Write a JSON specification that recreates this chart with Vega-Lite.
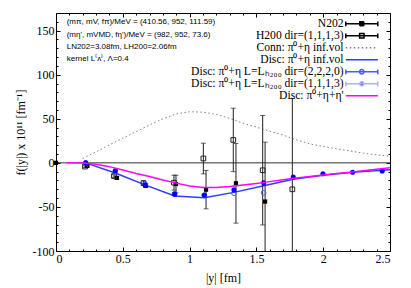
{
  "$schema": "https://vega.github.io/schema/vega-lite/v6.json",
  "width": 334,
  "height": 238,
  "autosize": "none",
  "padding": {"left": 56, "top": 13, "right": 21, "bottom": 37},
  "background": "white",
  "config": {
    "view": {"stroke": "black", "strokeWidth": 1},
    "font": "Liberation Serif",
    "axis": {"grid": false, "domain": false, "labelFont": "Liberation Serif", "labelFontSize": 12, "labelColor": "black", "titleFont": "Liberation Serif", "titleFontSize": 12, "titleFontWeight": "normal", "titleColor": "black", "tickColor": "black", "tickWidth": 1}
  },
  "datasets": {
    "curves": [
      {"series": "conn", "x": 0.2, "y": 5}, {"series": "conn", "x": 0.3, "y": 12.5}, {"series": "conn", "x": 0.4, "y": 20.5}, {"series": "conn", "x": 0.5, "y": 28}, {"series": "conn", "x": 0.6, "y": 35.5}, {"series": "conn", "x": 0.7, "y": 43}, {"series": "conn", "x": 0.8, "y": 50}, {"series": "conn", "x": 0.9, "y": 55.5}, {"series": "conn", "x": 1.0, "y": 58}, {"series": "conn", "x": 1.1, "y": 57.5}, {"series": "conn", "x": 1.2, "y": 55}, {"series": "conn", "x": 1.3, "y": 50.5}, {"series": "conn", "x": 1.4, "y": 45}, {"series": "conn", "x": 1.5, "y": 40.5}, {"series": "conn", "x": 1.6, "y": 36}, {"series": "conn", "x": 1.7, "y": 31.5}, {"series": "conn", "x": 1.8, "y": 26}, {"series": "conn", "x": 1.9, "y": 21.5}, {"series": "conn", "x": 2.0, "y": 18.5}, {"series": "conn", "x": 2.1, "y": 16}, {"series": "conn", "x": 2.2, "y": 13.5}, {"series": "conn", "x": 2.3, "y": 11}, {"series": "conn", "x": 2.4, "y": 9}, {"series": "conn", "x": 2.5, "y": 7.5},
      {"series": "disc", "x": 0.222, "y": 0}, {"series": "disc", "x": 0.444, "y": -11.5}, {"series": "disc", "x": 0.666, "y": -25}, {"series": "disc", "x": 0.888, "y": -37.5}, {"series": "disc", "x": 1.11, "y": -39.7}, {"series": "disc", "x": 1.332, "y": -33.5}, {"series": "disc", "x": 1.554, "y": -26}, {"series": "disc", "x": 1.776, "y": -18.5}, {"series": "disc", "x": 1.998, "y": -14}, {"series": "disc", "x": 2.22, "y": -10.8}, {"series": "disc", "x": 2.442, "y": -8.3}, {"series": "disc", "x": 2.5, "y": -7.8},
      {"series": "eta", "x": 0.08, "y": 0}, {"series": "eta", "x": 0.2, "y": -0.3}, {"series": "eta", "x": 0.3, "y": -1.5}, {"series": "eta", "x": 0.4, "y": -4.3}, {"series": "eta", "x": 0.5, "y": -8}, {"series": "eta", "x": 0.6, "y": -12}, {"series": "eta", "x": 0.7, "y": -15.5}, {"series": "eta", "x": 0.8, "y": -19.5}, {"series": "eta", "x": 0.9, "y": -23}, {"series": "eta", "x": 1.0, "y": -26.3}, {"series": "eta", "x": 1.1, "y": -28}, {"series": "eta", "x": 1.2, "y": -28}, {"series": "eta", "x": 1.3, "y": -26.8}, {"series": "eta", "x": 1.4, "y": -25}, {"series": "eta", "x": 1.5, "y": -23.3}, {"series": "eta", "x": 1.6, "y": -21.3}, {"series": "eta", "x": 1.7, "y": -19.2}, {"series": "eta", "x": 1.8, "y": -17.2}, {"series": "eta", "x": 1.9, "y": -15.4}, {"series": "eta", "x": 2.0, "y": -13.7}, {"series": "eta", "x": 2.1, "y": -12.1}, {"series": "eta", "x": 2.2, "y": -10.6}, {"series": "eta", "x": 2.3, "y": -9}, {"series": "eta", "x": 2.4, "y": -7.3}, {"series": "eta", "x": 2.5, "y": -5.6}
    ],
    "pts": [
      {"series": "N202", "x": 0.0, "y": 0, "lo": 0, "hi": 0},
      {"series": "N202", "x": 0.234, "y": -3.5, "lo": -4.5, "hi": -2.5},
      {"series": "N202", "x": 0.455, "y": -17, "lo": -18.5, "hi": -15.5},
      {"series": "N202", "x": 0.672, "y": -26, "lo": -28, "hi": -24},
      {"series": "N202", "x": 0.898, "y": -24, "lo": -34, "hi": -14},
      {"series": "N202", "x": 1.123, "y": -30.4, "lo": -52.2, "hi": -8.6},
      {"series": "N202", "x": 1.347, "y": -23.2, "lo": -68.4, "hi": 22},
      {"series": "N202", "x": 1.565, "y": -43.9, "lo": -111.3, "hi": 23.5},
      {"series": "H200", "x": 0.217, "y": -4.2, "lo": -5.2, "hi": -3.2},
      {"series": "H200", "x": 0.434, "y": -15, "lo": -16.5, "hi": -13.5},
      {"series": "H200", "x": 0.655, "y": -23, "lo": -25.5, "hi": -20.5},
      {"series": "H200", "x": 0.883, "y": -22.5, "lo": -31, "hi": -14},
      {"series": "H200", "x": 1.103, "y": 5, "lo": -12.5, "hi": 22.3},
      {"series": "H200", "x": 1.327, "y": 26, "lo": -10, "hi": 62},
      {"series": "H200", "x": 1.547, "y": -8.4, "lo": -70.5, "hi": 53.7},
      {"series": "H200", "x": 1.769, "y": -30, "lo": -133, "hi": 73},
      {"series": "D2220", "x": 0.222, "y": 0, "lo": 0, "hi": 0},
      {"series": "D2220", "x": 0.444, "y": -9.5, "lo": -9.5, "hi": -9.5},
      {"series": "D2220", "x": 0.666, "y": -24, "lo": -24, "hi": -24},
      {"series": "D2220", "x": 0.888, "y": -35, "lo": -35, "hi": -35},
      {"series": "D2220", "x": 1.11, "y": -37, "lo": -37, "hi": -37},
      {"series": "D2220", "x": 1.332, "y": -34.5, "lo": -34.5, "hi": -34.5},
      {"series": "D2220", "x": 1.554, "y": -34, "lo": -34, "hi": -34},
      {"series": "D1113", "x": 0.222, "y": 0, "lo": 0, "hi": 0},
      {"series": "D1113", "x": 0.444, "y": -9, "lo": -9, "hi": -9},
      {"series": "D1113", "x": 0.666, "y": -25, "lo": -25, "hi": -25},
      {"series": "D1113", "x": 0.888, "y": -35.5, "lo": -35.5, "hi": -35.5},
      {"series": "D1113", "x": 1.11, "y": -36.5, "lo": -36.5, "hi": -36.5},
      {"series": "D1113", "x": 1.332, "y": -30.5, "lo": -30.5, "hi": -30.5},
      {"series": "D1113", "x": 1.554, "y": -22.5, "lo": -22.5, "hi": -22.5},
      {"series": "D1113", "x": 1.776, "y": -16, "lo": -16, "hi": -16},
      {"series": "D1113", "x": 1.998, "y": -12.3, "lo": -12.3, "hi": -12.3},
      {"series": "D1113", "x": 2.22, "y": -10.6, "lo": -10.6, "hi": -10.6},
      {"series": "D1113", "x": 2.442, "y": -9.3, "lo": -9.3, "hi": -9.3}
    ]
  },
  "resolve": {"axis": {"x": "independent", "y": "independent"}},
  "layer": [
    {
      "data": {"name": "curves"},
      "transform": [{"filter": {"field": "series", "equal": "conn"}}],
      "mark": {"type": "line", "color": "#808080", "strokeWidth": 1, "strokeDash": [1.5, 2.5]},
      "encoding": {
        "x": {"field": "x", "type": "quantitative", "scale": {"domain": [0, 2.5], "nice": false, "zero": false},
          "axis": {"orient": "bottom", "values": [0, 0.5, 1, 1.5, 2, 2.5], "tickSize": -4, "labelPadding": 6, "labelExpr": "'' + datum.value", "labelFont": "Liberation Serif", "labelFontSize": 12, "title": "|y| [fm]", "titleFont": "Liberation Serif", "titleFontSize": 12, "titleFontWeight": "normal", "titlePadding": 8}},
        "y": {"field": "y", "type": "quantitative", "scale": {"domain": [-100, 170], "nice": false, "zero": false},
          "axis": {"orient": "left", "values": [-100, -50, 0, 50, 100, 150], "tickSize": -4, "labelPadding": 6, "labelExpr": "'' + datum.value", "labelFont": "Liberation Serif", "labelFontSize": 12, "title": "f(|y|) x 10¹¹ [fm⁻¹]", "titleFont": "Liberation Serif", "titleFontSize": 12, "titleFontWeight": "normal", "titlePadding": 5}}
      }
    },
    {
      "data": {"values": [{}]},
      "mark": {"type": "rule", "color": "#333333", "strokeWidth": 1},
      "encoding": {"y": {"datum": 0, "type": "quantitative", "axis": null}}
    },
    {
      "data": {"name": "curves"},
      "transform": [{"filter": {"field": "series", "equal": "disc"}}],
      "mark": {"type": "line", "color": "#2a3cff", "strokeWidth": 1.5},
      "encoding": {
        "x": {"field": "x", "type": "quantitative", "axis": null},
        "y": {"field": "y", "type": "quantitative", "axis": null}
      }
    },
    {
      "data": {"name": "pts"},
      "transform": [{"filter": {"field": "series", "oneOf": ["N202", "H200"]}}],
      "mark": {"type": "rule", "color": "#222222", "strokeWidth": 1, "clip": true},
      "encoding": {
        "x": {"field": "x", "type": "quantitative", "axis": null},
        "y": {"field": "lo", "type": "quantitative", "axis": null},
        "y2": {"field": "hi"}
      }
    },
    {
      "data": {"name": "pts"},
      "transform": [{"filter": {"field": "series", "oneOf": ["N202", "H200"]}}],
      "mark": {"type": "tick", "orient": "horizontal", "color": "#222222", "size": 5, "thickness": 1, "clip": true},
      "encoding": {
        "x": {"field": "x", "type": "quantitative", "axis": null},
        "y": {"field": "lo", "type": "quantitative", "axis": null}
      }
    },
    {
      "data": {"name": "pts"},
      "transform": [{"filter": {"field": "series", "oneOf": ["N202", "H200"]}}],
      "mark": {"type": "tick", "orient": "horizontal", "color": "#222222", "size": 5, "thickness": 1, "clip": true},
      "encoding": {
        "x": {"field": "x", "type": "quantitative", "axis": null},
        "y": {"field": "hi", "type": "quantitative", "axis": null}
      }
    },
    {
      "data": {"name": "pts"},
      "transform": [{"filter": {"field": "series", "equal": "N202"}}],
      "mark": {"type": "point", "shape": "square", "filled": true, "color": "black", "size": 18, "opacity": 1},
      "encoding": {
        "x": {"field": "x", "type": "quantitative", "axis": null},
        "y": {"field": "y", "type": "quantitative", "axis": null}
      }
    },
    {
      "data": {"name": "pts"},
      "transform": [{"filter": {"field": "series", "equal": "H200"}}],
      "mark": {"type": "point", "shape": "square", "filled": false, "color": "#222222", "strokeWidth": 1, "size": 22, "opacity": 1},
      "encoding": {
        "x": {"field": "x", "type": "quantitative", "axis": null},
        "y": {"field": "y", "type": "quantitative", "axis": null}
      }
    },
    {
      "data": {"name": "pts"},
      "transform": [{"filter": {"field": "series", "equal": "D2220"}}],
      "mark": {"type": "point", "shape": "circle", "filled": false, "color": "#4a5aff", "strokeWidth": 1, "size": 22, "opacity": 1},
      "encoding": {
        "x": {"field": "x", "type": "quantitative", "axis": null},
        "y": {"field": "y", "type": "quantitative", "axis": null}
      }
    },
    {
      "data": {"name": "pts"},
      "transform": [{"filter": {"field": "series", "equal": "D1113"}}],
      "mark": {"type": "point", "shape": "circle", "filled": true, "color": "#0000ff", "size": 26, "opacity": 1},
      "encoding": {
        "x": {"field": "x", "type": "quantitative", "axis": null},
        "y": {"field": "y", "type": "quantitative", "axis": null}
      }
    },
    {
      "data": {"name": "curves"},
      "transform": [{"filter": {"field": "series", "equal": "eta"}}],
      "mark": {"type": "line", "color": "#ff00ff", "strokeWidth": 1.5},
      "encoding": {
        "x": {"field": "x", "type": "quantitative", "axis": null},
        "y": {"field": "y", "type": "quantitative", "axis": null}
      }
    },
    {
      "data": {"values": [{}]},
      "mark": {"type": "text", "align": "left", "baseline": "alphabetic", "font": "Liberation Sans", "fontSize": 8, "lineHeight": 12.3, "color": "black",
        "text": ["(mπ, mV, fπ)/MeV = (410.56, 952, 111.59)", "(mη', mVMD, fη')/MeV = (982, 952, 73.6)", "LN202=3.08fm, LH200=2.06fm", "kernel L⁽ᴧ⁾, Λ=0.4"]},
      "encoding": {
        "x": {"datum": 0.08, "type": "quantitative", "axis": null},
        "y": {"datum": 157, "type": "quantitative", "axis": null}
      }
    },
    {
      "data": {"name": "pts"},
      "transform": [{"filter": "false"}],
      "mark": {"type": "point"},
      "encoding": {
        "x": {"field": "x", "type": "quantitative", "axis": {"orient": "bottom", "values": [0.1, 0.2, 0.3, 0.4, 0.6, 0.7, 0.8, 0.9, 1.1, 1.2, 1.3, 1.4, 1.6, 1.7, 1.8, 1.9, 2.1, 2.2, 2.3, 2.4], "tickSize": -2, "labels": false, "title": null}},
        "y": {"field": "y", "type": "quantitative", "axis": {"orient": "left", "values": [-90, -80, -70, -60, -40, -30, -20, -10, 10, 20, 30, 40, 60, 70, 80, 90, 110, 120, 130, 140, 160], "tickSize": -2, "labels": false, "title": null}}
      }
    },
    {
      "data": {"name": "pts"},
      "transform": [{"filter": "false"}],
      "mark": {"type": "point"},
      "encoding": {
        "x": {"field": "x", "type": "quantitative", "axis": {"orient": "top", "values": [0, 0.5, 1, 1.5, 2, 2.5], "tickSize": -4, "labels": false, "title": null}},
        "y": {"field": "y", "type": "quantitative", "axis": {"orient": "right", "values": [-100, -50, 0, 50, 100, 150], "tickSize": -4, "labels": false, "title": null}}
      }
    },
    {
      "data": {"name": "pts"},
      "transform": [{"filter": "false"}],
      "mark": {"type": "point"},
      "encoding": {
        "x": {"field": "x", "type": "quantitative", "axis": {"orient": "top", "values": [0.1, 0.2, 0.3, 0.4, 0.6, 0.7, 0.8, 0.9, 1.1, 1.2, 1.3, 1.4, 1.6, 1.7, 1.8, 1.9, 2.1, 2.2, 2.3, 2.4], "tickSize": -2, "labels": false, "title": null}},
        "y": {"field": "y", "type": "quantitative", "axis": {"orient": "right", "values": [-90, -80, -70, -60, -40, -30, -20, -10, 10, 20, 30, 40, 60, 70, 80, 90, 110, 120, 130, 140, 160], "tickSize": -2, "labels": false, "title": null}}
      }
    },
    {
      "data": {"name": "pts"},
      "transform": [{"filter": "false"}],
      "mark": {"type": "point", "opacity": 1, "strokeWidth": 1},
      "encoding": {
        "shape": {"field": "series", "type": "nominal",
          "scale": {"domain": ["N202", "H200 dir=(1,1,1,3)", "Conn: π⁰+η inf.vol", "Disc: π⁰+η inf.vol", "Disc: π⁰+η L=Lₕ₂₀₀ dir=(2,2,2,0)", "Disc: π⁰+η L=Lₕ₂₀₀ dir=(1,1,1,3)", "Disc: π⁰+η+η'"],
            "range": ["M-4,0H4M-4,-0.6V0.6M4,-0.6V0.6M-0.5,-0.5H0.5V0.5H-0.5Z", "M-4,0H4M-4,-0.6V0.6M4,-0.6V0.6M-0.55,-0.55H0.55V0.55H-0.55Z", "M-4,0H4", "M-4,0H4", "M-4,0H4M-4,-0.6V0.6M4,-0.6V0.6M-0.55,0A0.55,0.55,0,1,0,0.55,0A0.55,0.55,0,1,0,-0.55,0Z", "M-4,0H4M-4,-0.6V0.6M4,-0.6V0.6M-0.5,0A0.5,0.5,0,1,0,0.5,0A0.5,0.5,0,1,0,-0.5,0Z", "M-4,0H4"]},
          "legend": {"title": null, "orient": "none", "legendX": 300, "legendY": 5, "padding": 0, "symbolSize": 64, "labelAlign": "right", "labelOffset": -24, "labelFont": "Liberation Serif", "labelFontSize": 11.6, "labelColor": "black", "labelLimit": 400, "rowPadding": -3,
            "encode": {"symbols": {"update": {"opacity": {"value": 1}, "strokeWidth": {"signal": "indexof(datum.value, 'L=') >= 0 && indexof(datum.value, '1,1,1,3') >= 0 ? 3 : (datum.value == 'Disc: π⁰+η inf.vol' || indexof(datum.value, '+η+η') >= 0 ? 1.5 : 1)"}}}}}},
        "stroke": {"field": "series", "type": "nominal",
          "scale": {"domain": ["N202", "H200 dir=(1,1,1,3)", "Conn: π⁰+η inf.vol", "Disc: π⁰+η inf.vol", "Disc: π⁰+η L=Lₕ₂₀₀ dir=(2,2,2,0)", "Disc: π⁰+η L=Lₕ₂₀₀ dir=(1,1,1,3)", "Disc: π⁰+η+η'"],
            "range": ["black", "black", "#808080", "#2a3cff", "#4a5aff", "#aab2ff", "#ff00ff"]}},
        "fill": {"field": "series", "type": "nominal",
          "scale": {"domain": ["N202", "H200 dir=(1,1,1,3)", "Conn: π⁰+η inf.vol", "Disc: π⁰+η inf.vol", "Disc: π⁰+η L=Lₕ₂₀₀ dir=(2,2,2,0)", "Disc: π⁰+η L=Lₕ₂₀₀ dir=(1,1,1,3)", "Disc: π⁰+η+η'"],
            "range": ["black", "white", "transparent", "transparent", "white", "#0000ff", "transparent"]}},
        "strokeDash": {"field": "series", "type": "nominal",
          "scale": {"domain": ["N202", "H200 dir=(1,1,1,3)", "Conn: π⁰+η inf.vol", "Disc: π⁰+η inf.vol", "Disc: π⁰+η L=Lₕ₂₀₀ dir=(2,2,2,0)", "Disc: π⁰+η L=Lₕ₂₀₀ dir=(1,1,1,3)", "Disc: π⁰+η+η'"],
            "range": [[1, 0], [1, 0], [1.5, 2.5], [1, 0], [1, 0], [1, 0], [1, 0]]}}
      }
    }
  ]
}
